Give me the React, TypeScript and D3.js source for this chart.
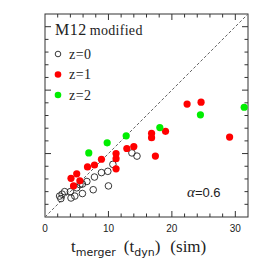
import { useEffect, useRef } from "react";
import * as d3 from "d3";

// t_merger (sim) vs model
const z0X = [14.5, 13.7, 10.7, 9.9, 8.9, 7.8, 6.6, 5.9, 5.5, 3.1, 2.7, 2.3, 2.5, 4.0, 4.1, 4.7, 5.0, 5.9, 7.6, 10.0];
const z0Y = [9.6, 10.1, 8.3, 7.2, 7.0, 6.3, 5.6, 5.2, 5.1, 4.0, 3.6, 3.3, 2.9, 4.0, 3.0, 3.3, 4.6, 3.7, 4.3, 4.9];
const z1X = [22.4, 24.6, 29.1, 19.0, 16.8, 16.8, 17.4, 14.0, 12.9, 11.2, 11.2, 11.2, 8.9, 7.8, 6.7, 5.0, 4.1, 5.5, 4.5];
const z1Y = [17.8, 18.1, 12.6, 13.5, 13.2, 12.5, 9.6, 11.1, 10.8, 10.0, 9.2, 7.6, 9.1, 8.2, 7.9, 6.8, 6.1, 5.7, 4.9];
const z2X = [24.5, 31.4, 18.1, 12.8, 9.8, 6.9];
const z2Y = [16.1, 17.3, 14.1, 12.8, 11.7, 10.1];
const xTickLabels = [0, 10, 20, 30];
const legendLabels = ["z=0", "z=1", "z=2"];

const serif = "Liberation Serif, Times New Roman, serif";
const sans = "Liberation Sans, Arial, sans-serif";

const Chart = () => {
  const svgRef = useRef<SVGSVGElement>(null);

  useEffect(() => {
    const svg = d3.select(svgRef.current).attr("width", 262).attr("height", 262);
    svg.selectAll("*").remove();

    const left = 45, right = 248, top = 14, bottom = 217;
    const x = d3.scaleLinear().domain([0, 32]).range([left, right]);
    const y = d3.scaleLinear().domain([0, 32]).range([bottom, top]);

    // frame
    svg.append("rect")
      .attr("x", left).attr("y", top)
      .attr("width", right - left).attr("height", bottom - top)
      .attr("fill", "none").attr("stroke", "#333").attr("stroke-width", 1);

    // ticks (inward, all sides)
    const minor = d3.range(2, 32, 2);
    const tickLen = (v: number) => (v % 10 === 0 ? 6 : 3.5);
    const tk = svg.append("g").attr("stroke", "#333").attr("stroke-width", 1);
    minor.forEach((v) => {
      const L = tickLen(v);
      tk.append("line").attr("x1", x(v)).attr("x2", x(v)).attr("y1", bottom).attr("y2", bottom - L);
      tk.append("line").attr("x1", x(v)).attr("x2", x(v)).attr("y1", top).attr("y2", top + L);
      tk.append("line").attr("y1", y(v)).attr("y2", y(v)).attr("x1", left).attr("x2", left + L);
      tk.append("line").attr("y1", y(v)).attr("y2", y(v)).attr("x1", right).attr("x2", right - L);
    });

    svg.append("g").selectAll("text").data(xTickLabels).enter().append("text")
      .attr("x", (d) => x(d)).attr("y", 232)
      .attr("text-anchor", "middle")
      .attr("font-family", sans)
      .attr("font-size", 10).attr("fill", "#222")
      .text((d) => d);

    // 1:1 line
    svg.append("line")
      .attr("x1", x(0)).attr("y1", y(0)).attr("x2", x(32)).attr("y2", y(32))
      .attr("stroke", "#666").attr("stroke-width", 1).attr("stroke-dasharray", "3,2");

    const pts = (xs: number[], ys: number[]) => xs.map((v, i) => [v, ys[i]]);

    svg.append("g").selectAll("circle").data(pts(z0X, z0Y)).enter().append("circle")
      .attr("cx", (d) => x(d[0])).attr("cy", (d) => y(d[1])).attr("r", 3.3)
      .attr("fill", "none").attr("stroke", "#222").attr("stroke-width", 0.9);
    svg.append("g").selectAll("circle").data(pts(z1X, z1Y)).enter().append("circle")
      .attr("cx", (d) => x(d[0])).attr("cy", (d) => y(d[1])).attr("r", 3.6)
      .attr("fill", "#ff0000");
    svg.append("g").selectAll("circle").data(pts(z2X, z2Y)).enter().append("circle")
      .attr("cx", (d) => x(d[0])).attr("cy", (d) => y(d[1])).attr("r", 3.6)
      .attr("fill", "#00ee00");

    // legend
    const title = svg.append("text").attr("x", 55).attr("y", 35)
      .attr("font-family", serif).attr("fill", "#222");
    title.append("tspan").attr("font-size", 16).attr("letter-spacing", 0.5).text("M12");
    title.append("tspan").attr("font-size", 14).attr("dx", 3).attr("letter-spacing", 0.3).text("modified");

    const colors = [
      { fill: "none", stroke: "#222" },
      { fill: "#ff0000", stroke: "none" },
      { fill: "#00ee00", stroke: "none" },
    ];
    legendLabels.forEach((lab, i) => {
      const ly = 54 + i * 20.5;
      svg.append("circle").attr("cx", 58).attr("cy", ly).attr("r", i === 0 ? 2.8 : 3.3)
        .attr("fill", colors[i].fill).attr("stroke", colors[i].stroke).attr("stroke-width", 0.9);
      svg.append("text").attr("x", 69).attr("y", ly + 4.5)
        .attr("font-family", serif).attr("font-size", 14).attr("fill", "#222")
        .attr("letter-spacing", 0.5)
        .text(lab);
    });

    // alpha annotation
    const a = svg.append("text").attr("x", 187).attr("y", 197).attr("fill", "#222").attr("font-size", 13);
    a.append("tspan").attr("font-family", serif).attr("font-style", "italic").attr("font-size", 15).text("α");
    a.append("tspan").attr("font-family", sans).text("=0.6");

    // x label
    const xl = svg.append("text").attr("x", 71).attr("y", 252)
      .attr("font-family", serif).attr("font-size", 17).attr("fill", "#222");
    xl.append("tspan").text("t");
    xl.append("tspan").attr("font-size", 11).attr("dy", 4).attr("font-family", "DejaVu Sans, sans-serif").text("merger");
    xl.append("tspan").attr("dy", -4).attr("dx", 8).text("(t");
    xl.append("tspan").attr("font-size", 11).attr("dy", 4).attr("font-family", "DejaVu Sans, sans-serif").text("dyn");
    xl.append("tspan").attr("dy", -4).text(")");
    xl.append("tspan").attr("dx", 10).text("(sim)");
  }, []);

  return <svg ref={svgRef} style={{ position: "absolute", left: 0, top: 0 }}></svg>;
};

export default function App() {
  return <Chart />;
}
